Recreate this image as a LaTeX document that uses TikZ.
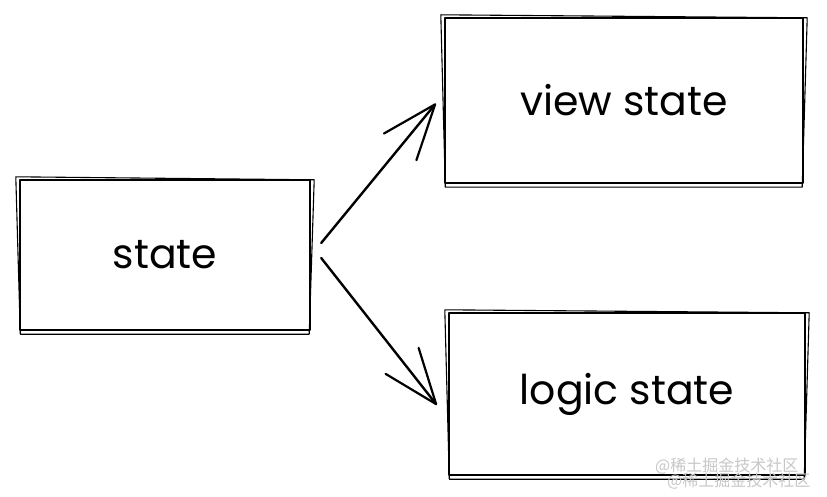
\documentclass[tikz,border=0pt]{standalone}
\usepackage{fontspec}
\setmainfont{Poppins}
\newfontfamily\cjk{Noto Sans CJK SC}
\usetikzlibrary{arrows.meta}
\begin{document}
\begin{tikzpicture}[x=1pt,y=-1pt,
  box/.style={draw=black, line width=2.4pt, line join=round, inner sep=0pt,
    font=\fontsize{41}{48}\selectfont},
  sk/.style={draw=black, line width=1.1pt, line cap=round, line join=round},
  arr/.style={draw=black, line width=2.4pt, line cap=round,
    -{Straight Barb[length=55pt, width=42pt, line width=2.2pt, round]}},
  wm/.style={text=black!22, font=\cjk\fontsize{16}{18}\selectfont, inner sep=0pt}]
\useasboundingbox (0,0) rectangle (827,497);
\fill[white] (0,0) rectangle (827,497);

\node[box, minimum width=290pt, minimum height=150pt] (s) at (165,255) {state};
\node[box, minimum width=358pt, minimum height=165pt] (v) at (624,100.5) {view state};
\node[box, minimum width=356pt, minimum height=162pt] (l) at (627,394) {logic state};

\foreach \n in {s,v,l}{
  \draw[sk] ([shift={(-3pt,2pt)}]\n.north west) -- ([shift={(3pt,-1pt)}]\n.north east)
    -- ([shift={(-2pt,-3pt)}]\n.south east) -- ([shift={(1.5pt,-3pt)}]\n.south west) -- cycle;
}

\draw[arr] ([shift={(10pt,12pt)}]s.east) -- ([shift={(-8pt,-3pt)}]v.west);
\draw[arr] ([shift={(10pt,-3pt)}]s.east) -- ([shift={(-11pt,-11pt)}]l.west);

\node[wm, anchor=west] (w1) at (655,466) {@稀土掘金技术社区};
\node[wm, anchor=west] (w2) at (667,481) {@稀土掘金技术社区};
\end{tikzpicture}
\end{document}
